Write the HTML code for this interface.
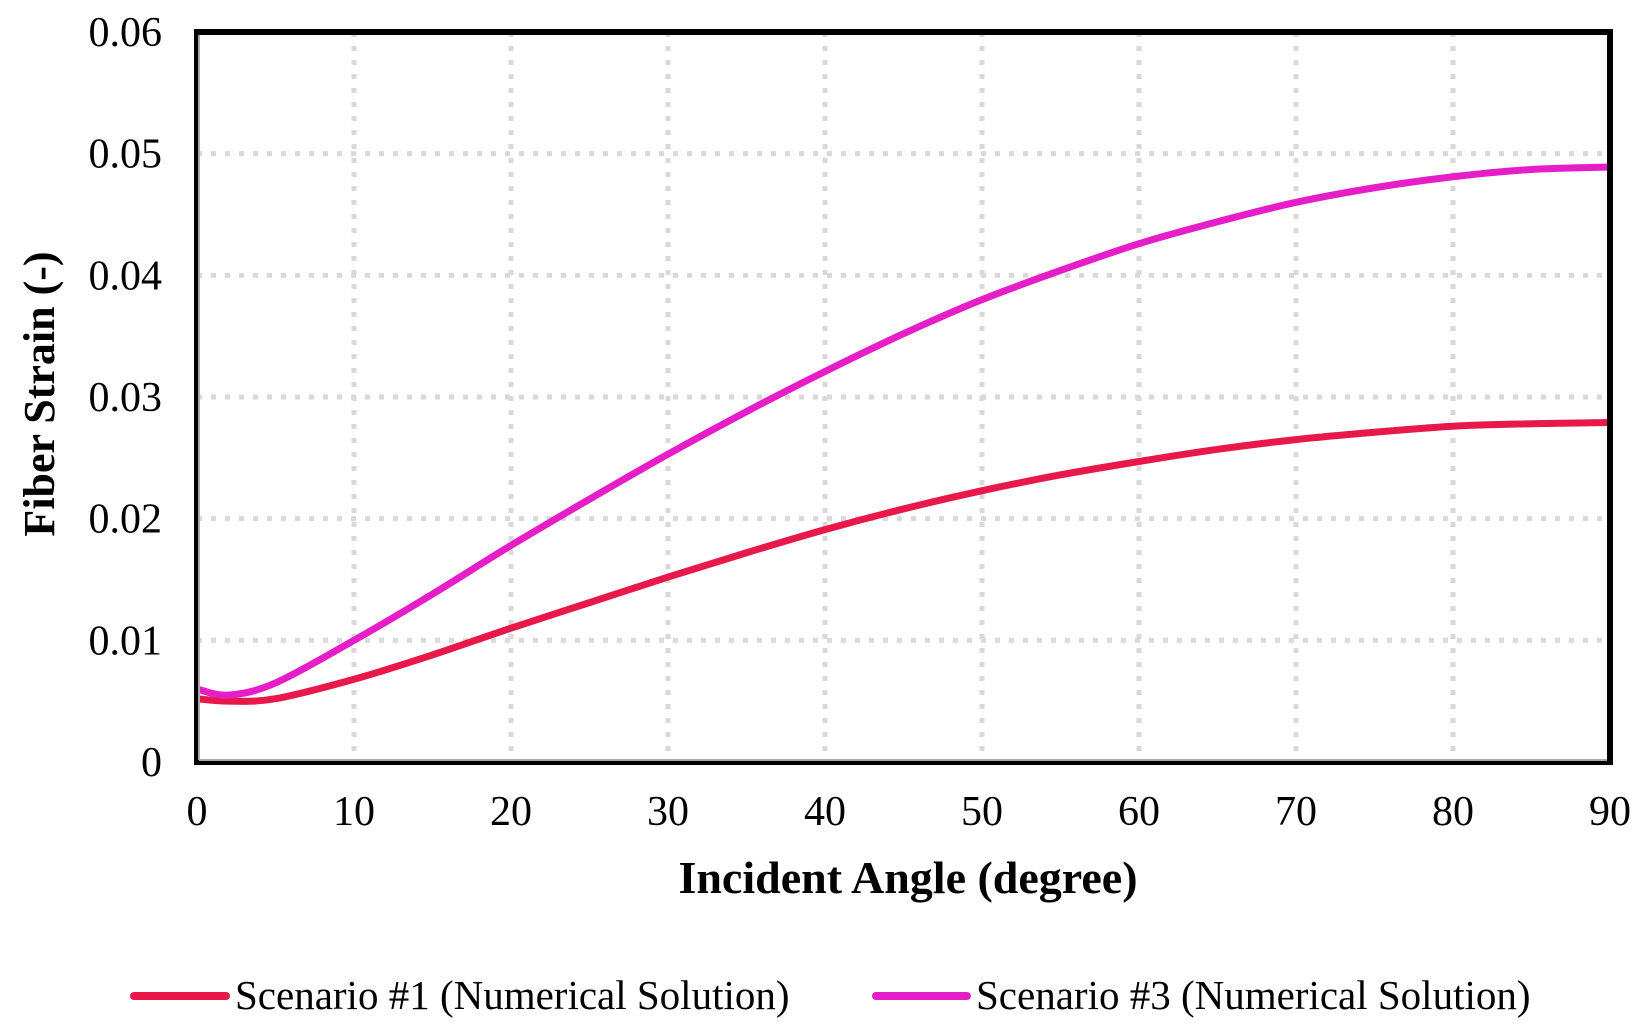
<!DOCTYPE html>
<html><head><meta charset="utf-8"><style>
html,body{margin:0;padding:0;background:#fff;}
svg{display:block;font-family:"Liberation Serif",serif;}
</style></head><body>
<svg id="chart" width="1652" height="1028" viewBox="0 0 1652 1028">
<g id="grid"></g>
<g id="series"></g>
<rect x="197" y="32" width="1413" height="730" fill="none" stroke="#000" stroke-width="6"/>
<line x1="199" y1="35" x2="199" y2="760" stroke="#aaa" stroke-width="2"/>
<line x1="199" y1="760" x2="1607" y2="760" stroke="#aaa" stroke-width="2"/>
<g id="ticks"></g>
<text x="908" y="893" font-size="46" font-weight="bold" text-anchor="middle">Incident Angle (degree)</text>
<text transform="translate(54,394) rotate(-90)" font-size="44" font-weight="bold" text-anchor="middle">Fiber Strain (-)</text>
<g>
<g>
<line x1="134" y1="996" x2="226" y2="996" stroke="#E8194A" stroke-width="8" stroke-linecap="round"/>
<text x="235" y="1009" font-size="41">Scenario #1 (Numerical Solution)</text>
</g>
<g>
<line x1="876" y1="996" x2="967" y2="996" stroke="#E61EC8" stroke-width="8" stroke-linecap="round"/>
<text x="976" y="1009" font-size="41">Scenario #3 (Numerical Solution)</text>
</g>
</g>
</svg>
<script>
const angles = [0,2,5,10,15,20,25,30,35,40,45,50,55,60,65,70,75,80,85,90];
const scenario1 = [0.0052,0.0050,0.0052,0.0068,0.0088,0.0110,0.0131,0.0152,0.0172,0.0191,0.0208,0.0223,0.0236,0.0247,0.0257,0.0265,0.0271,0.0276,0.0278,0.0279];
const scenario3 = [0.0060,0.0055,0.0065,0.0100,0.0138,0.0178,0.0216,0.0253,0.0288,0.0321,0.0352,0.0380,0.0404,0.0426,0.0444,0.0460,0.0472,0.0481,0.0487,0.0489];
const xTicks = [0,10,20,30,40,50,60,70,80,90];
const yTicks = [0,0.01,0.02,0.03,0.04,0.05,0.06];
const yTickLabels = ["0","0.01","0.02","0.03","0.04","0.05","0.06"];

const X0=197,X1=1610,Y0=762,Y1=32;
const xs=v=>X0+(v-0)/(90-0)*(X1-X0);
const ys=v=>Y0-(v-0)/(0.06-0)*(Y0-Y1);
const NS="http://www.w3.org/2000/svg";
const grid=document.getElementById('grid'), ticks=document.getElementById('ticks'), series=document.getElementById('series');

xTicks.forEach((t,i)=>{
  if(t>0&&t<90){
    const l=document.createElementNS(NS,'line');
    l.setAttribute('x1',xs(t));l.setAttribute('x2',xs(t));l.setAttribute('y1',Y1);l.setAttribute('y2',Y0);
    l.setAttribute('stroke','#d9d9d9');l.setAttribute('stroke-width','5');l.setAttribute('stroke-dasharray','5 9');
    
    
    grid.appendChild(l);
  }
  const tx=document.createElementNS(NS,'text');
  tx.setAttribute('x',xs(t));tx.setAttribute('y',825);tx.setAttribute('font-size','42');tx.setAttribute('text-anchor','middle');
  tx.textContent=t;
  
  
  ticks.appendChild(tx);
});
yTicks.forEach((t,i)=>{
  if(i>0&&i<yTicks.length-1){
    const l=document.createElementNS(NS,'line');
    l.setAttribute('x1',X0);l.setAttribute('x2',X1);l.setAttribute('y1',ys(t));l.setAttribute('y2',ys(t));
    l.setAttribute('stroke','#d9d9d9');l.setAttribute('stroke-width','5');l.setAttribute('stroke-dasharray','5 9');
    
    
    grid.appendChild(l);
  }
  const tx=document.createElementNS(NS,'text');
  tx.setAttribute('x',162);tx.setAttribute('y',ys(t)+14);tx.setAttribute('font-size','42');tx.setAttribute('text-anchor','end');
  tx.textContent=yTickLabels[i];
  
  
  ticks.appendChild(tx);
});

function smooth(vals){
  const p=angles.map((a,i)=>[xs(a),ys(vals[i])]);
  let d='M'+p[0][0]+','+p[0][1];
  for(let i=0;i<p.length-1;i++){
    const p0=p[i-1]||p[i],p1=p[i],p2=p[i+1],p3=p[i+2]||p2;
    const c1=[p1[0]+(p2[0]-p0[0])/6,p1[1]+(p2[1]-p0[1])/6];
    const c2=[p2[0]-(p3[0]-p1[0])/6,p2[1]-(p3[1]-p1[1])/6];
    d+=`C${c1[0]},${c1[1]} ${c2[0]},${c2[1]} ${p2[0]},${p2[1]}`;
  }
  return d;
}
[[scenario1,'#E8194A','line-scenario-1'],[scenario3,'#E61EC8','line-scenario-3']].forEach(s=>{
  const path=document.createElementNS(NS,'path');
  path.setAttribute('d',smooth(s[0]));path.setAttribute('fill','none');path.setAttribute('stroke',s[1]);path.setAttribute('stroke-width','7');
  
  
  series.appendChild(path);
});
</script>
</body></html>
